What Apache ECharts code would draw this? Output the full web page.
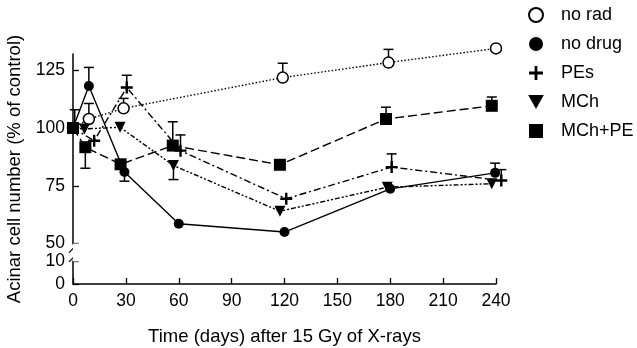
<!DOCTYPE html>
<html>
<head>
<meta charset="utf-8">
<script src="https://cdn.jsdelivr.net/npm/echarts@6.0.0/dist/echarts.min.js"></script>
<style>
  html, body { margin: 0; padding: 0; background: #fff; }
  #chart { width: 637px; height: 348px; }
</style>
</head>
<body>
<div id="chart"></div>
<script>
// series names, in legend order
const names = ['no rad', 'no drug', 'PEs', 'MCh', 'MCh+PE'];

// days after irradiation (points are a little staggered in the original)
const daysNoRad = [0, 9, 28.7, 119, 179, 240];
const daysNoDrug = [0, 9, 29.2, 60, 120, 180, 239.5];
const daysPEs = [0, 12, 30.5, 61, 121, 180.8, 243];
const daysMCh = [0, 6.5, 26.7, 57, 117.4, 178.3, 237.6];
const daysMChPE = [0, 7, 27, 56.6, 117.4, 177.6, 237.6];

// acinar cell number, % of control
const noRad = [100, 103.9, 108.5, 121.8, 128.3, 134.4];
const noDrug = [100, 118.2, 81, 58.6, 55, 73.7, 80.6];
const pes = [100, 94.5, 117.5, 90.2, 69.4, 83.1, 77.3];
const mch = [100, 99.6, 100.3, 83.8, 64, 74.4, 75.9];
const mchPE = [100, 91.7, 84.3, 92.4, 84.1, 103.9, 109.6];

// error bars: [day, mean, end of bar]
const errBars = [
  [9, 103.9, 110.6], [28.7, 108.5, 112.8], [119, 121.8, 128], [179, 128.3, 134],
  [9, 118.2, 126.2], [29.2, 81, 77], [239.5, 80.6, 84.8],
  [30.5, 117.5, 122.8], [61, 90.2, 97], [180.8, 83.1, 88.8], [243, 77.3, 82],
  [57, 83.8, 77.7],
  [1, 100, 107.9], [7, 91.7, 82.6], [56.6, 92.4, 102.7], [177.6, 103.9, 109], [237.6, 109.6, 113.4]
];

// axis ticks
const xTicks = [0, 30, 60, 90, 120, 150, 180, 210, 240];
const yTicks = [0, 10, 50, 75, 100, 125];
// the y axis is cut between these two values
const yBreak = [10, 50];

const font = 'Liberation Sans, Arial, Helvetica, sans-serif';
const plusPath = 'path://M4,0H6V4H10V6H6V10H4V6H0V4H4Z';
const triDownPath = 'path://M0,0L10,0L5,9Z';
const squarePath = 'path://M0,0H10V10H0Z';

function zip(xs, ys) {
  return xs.map((x, i) => [x, ys[i]]);
}

function lineSeries(name, days, vals, symbol, size, itemStyle, lineStyle) {
  return {
    name: name,
    type: 'line',
    data: zip(days, vals),
    symbol: symbol,
    symbolSize: size,
    showAllSymbol: true,
    clip: false,
    z: 3,
    itemStyle: itemStyle,
    lineStyle: Object.assign({ color: '#000', width: 1.4 }, lineStyle),
    emphasis: { disabled: true }
  };
}

const chart = echarts.init(document.getElementById('chart'));

const option = {
  animation: false,
  backgroundColor: '#fff',
  textStyle: { fontFamily: font, color: '#000' },
  grid: { left: 73, right: 141, top: 54, bottom: 64, containLabel: false, outerBoundsMode: 'none' },
  legend: {
    orient: 'vertical',
    left: 528,
    top: 6,
    padding: 0,
    itemWidth: 40,
    itemHeight: 14,
    itemGap: 11,
    selectedMode: false,
    textStyle: { fontFamily: font, fontSize: 18, color: '#000' },
    data: [
      { name: 'no rad', icon: 'circle' },
      { name: 'no drug', icon: 'circle' },
      { name: 'PEs', icon: plusPath },
      { name: 'MCh', icon: triDownPath },
      { name: 'MCh+PE', icon: squarePath }
    ]
  },
  xAxis: {
    type: 'value',
    min: 0,
    max: 240,
    interval: 30,
    name: 'Time (days) after 15 Gy of X-rays',
    nameLocation: 'middle',
    nameGap: 43,
    nameTextStyle: { fontFamily: font, fontSize: 18.5, color: '#000' },
    axisLine: { lineStyle: { color: '#000', width: 1.5 } },
    axisTick: { inside: true, length: 6, lineStyle: { color: '#000', width: 1.3 }, customValues: xTicks },
    axisLabel: { fontFamily: font, fontSize: 17.5, color: '#000', margin: 8, customValues: xTicks },
    splitLine: { show: false }
  },
  yAxis: {
    type: 'value',
    min: 0,
    max: 132,
    name: 'Acinar cell number (% of control)',
    nameLocation: 'middle',
    nameGap: 45,
    nameTextStyle: { fontFamily: font, fontSize: 18.5, color: '#000' },
    breaks: [{ start: yBreak[0], end: yBreak[1], gap: '7.5%' }],
    breakArea: {
      show: true,
      itemStyle: { color: '#fff', borderColor: '#fff', borderWidth: 0, opacity: 1 },
      zigzagAmplitude: 0,
      expandOnClick: false
    },
    axisLine: { show: true, lineStyle: { color: '#000', width: 1.5 } },
    axisTick: { show: true, inside: true, length: 6, lineStyle: { color: '#000', width: 1.3 }, customValues: yTicks },
    axisLabel: { fontFamily: font, fontSize: 17.5, color: '#000', margin: 8, customValues: yTicks },
    splitLine: { show: false }
  },
  series: [
    lineSeries(names[0], daysNoRad, noRad, 'circle', 11,
      { color: '#fff', borderColor: '#000', borderWidth: 1.5 },
      { type: [1.5, 2] }),
    lineSeries(names[1], daysNoDrug, noDrug, 'circle', 10,
      { color: '#000' },
      { type: 'solid' }),
    lineSeries(names[2], daysPEs, pes, plusPath, 12,
      { color: '#000' },
      { type: [7, 3, 2, 3] }),
    lineSeries(names[3], daysMCh, mch, triDownPath, 11,
      { color: '#000' },
      { type: [5, 2, 2, 2, 2, 2] }),
    lineSeries(names[4], daysMChPE, mchPE, squarePath, 12,
      { color: '#000' },
      { type: [9, 4] }),
    {
      // error bars with a cap at the end
      type: 'custom',
      silent: true,
      z: 2,
      data: errBars,
      renderItem: function (params, api) {
        const p0 = api.coord([api.value(0), api.value(1)]);
        const p1 = api.coord([api.value(0), api.value(2)]);
        const style = { stroke: '#000', lineWidth: 1.5 };
        return {
          type: 'group',
          children: [
            { type: 'line', shape: { x1: p0[0], y1: p0[1], x2: p1[0], y2: p1[1] }, style: style },
            { type: 'line', shape: { x1: p1[0] - 5, y1: p1[1], x2: p1[0] + 5, y2: p1[1] }, style: style }
          ]
        };
      }
    },
    {
      // slashes marking the cut in the y axis
      type: 'custom',
      silent: true,
      z: 4,
      data: [[0, yBreak[1]], [0, yBreak[0]]],
      renderItem: function (params, api) {
        const p = api.coord([api.value(0), api.value(1)]);
        const dy = params.dataIndex === 0 ? 5 : -3;
        return {
          type: 'line',
          shape: { x1: p[0] - 4, y1: p[1] + dy + 4, x2: p[0] + 4, y2: p[1] + dy - 4 },
          style: { stroke: '#000', lineWidth: 1.3 }
        };
      }
    }
  ]
};

chart.setOption(option);
</script>
</body>
</html>
